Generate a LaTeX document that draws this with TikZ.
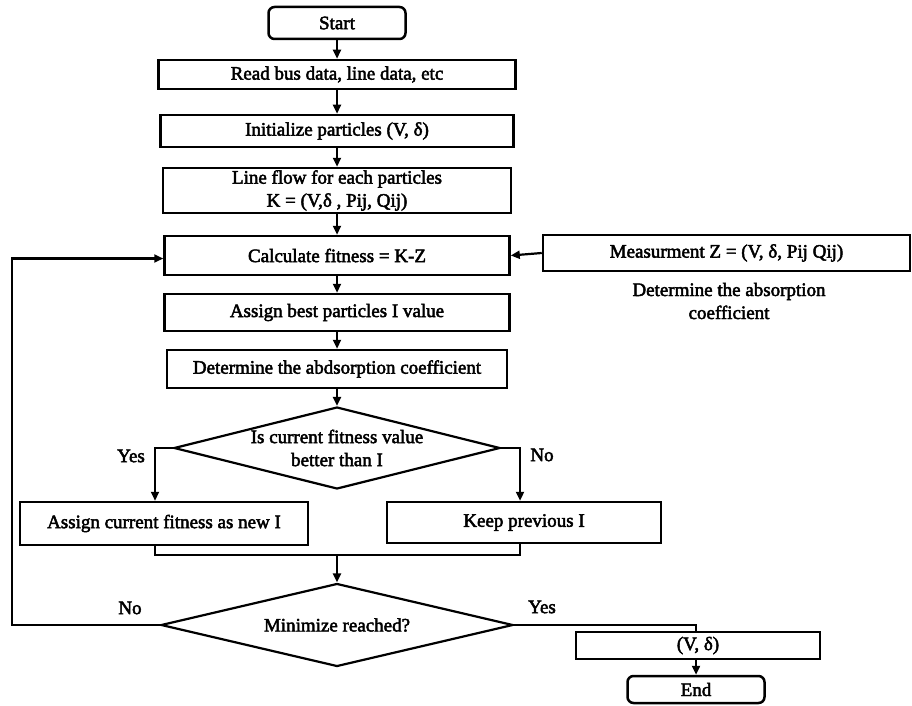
\documentclass[tikz,border=0pt]{standalone}
\usepackage{fontspec}
\usetikzlibrary{arrows.meta,shapes.geometric}
\newfontfamily\figfont{Liberation Serif}[FakeBold=2.5]
\newcommand\fzfont{\figfont\fontsize{19}{23}\selectfont}
\begin{document}
\begin{tikzpicture}[x=1pt,y=-1pt,
  box/.style={draw, line width=2.5pt, rectangle, inner sep=0pt, align=center, font=\fzfont},
  term/.style={box, rounded corners=6pt},
  dec/.style={draw, line width=2.2pt, diamond, inner sep=0pt, align=center, font=\fzfont},
  lbl/.style={inner sep=0pt, font=\fzfont},
  arr/.style={line width=2.2pt, -{Triangle[length=9pt,width=8pt]}},
  ln/.style={line width=2.2pt}]
\useasboundingbox (0,0) rectangle (912,706);

\node[term, minimum width=137pt, minimum height=32pt] (start) at (337,23) {Start};
\node[box, minimum width=357pt, minimum height=29pt] (read) at (337,74.5) {Read bus data, line data, etc};
\node[box, minimum width=353pt, minimum height=32pt] (init) at (337,131) {Initialize particles (V, δ)};
\node[box, minimum width=348pt, minimum height=45pt] (flow) at (337,190.5) {Line flow for each particles\\K = (V,δ , Pij, Qij)};
\node[box, minimum width=345pt, minimum height=39pt] (calc) at (337,255.5) {Calculate fitness = K-Z};
\node[box, minimum width=367pt, minimum height=36pt] (meas) at (726.5,253) {Measurment Z = (V, δ, Pij Qij)};
\node[lbl, align=center] (abs) at (729,301) {Determine the absorption\\coefficient};
\node[box, minimum width=345pt, minimum height=37pt] (best) at (337,312.5) {Assign best particles I value};
\node[box, minimum width=340pt, minimum height=38pt] (abd) at (337,369) {Determine the abdsorption coefficient};
\node[dec, aspect=3.98, minimum width=326pt, minimum height=82pt, inner sep=-3pt] (dec1) at (337,448) {Is current fitness value\\better than I};
\node[box, minimum width=288pt, minimum height=43pt] (cur) at (164,523.5) {Assign current fitness as new I};
\node[box, minimum width=274pt, minimum height=41pt] (keep) at (524,522.5) {Keep previous I};
\node[dec, aspect=4.24, minimum width=352pt, minimum height=83pt] (dec2) at (337,625) {Minimize reached?};
\node[box, minimum width=244pt, minimum height=27pt] (vd) at (698,645.5) {(V, δ)};
\node[term, minimum width=137pt, minimum height=27pt] (end) at (696,689.5) {End};

\node[lbl] (yes1) at (131,456) {Yes};
\node[lbl] (no1) at (542,455) {No};
\node[lbl] (no2) at (130,608) {No};
\node[lbl] (yes2) at (542,607) {Yes};

\coordinate (m) at (337,555);
\coordinate (loopc) at (12,625);

\draw[arr] (start) -- (read);
\draw[arr] (read) -- (init);
\draw[arr] (init) -- (flow);
\draw[arr] (flow) -- (calc);
\draw[arr] (calc) -- (best);
\draw[arr] (best) -- (abd);
\draw[arr] (abd) -- (dec1);
\draw[arr] (meas.west) -- (calc.east);
\draw[arr] (dec1.west) -| ([xshift=-9pt]cur.north);
\draw[arr] (dec1.east) -| ([xshift=-4pt]keep.north);
\draw[ln] ([xshift=-9pt]cur.south) |- (m) -| ([xshift=-4pt]keep.south);
\draw[arr] (m) -- (dec2.north);
\draw[arr] (dec2.west) -- (loopc) |- ([yshift=-3pt]calc.west);
\draw[ln] (dec2.east) -| (end.north |- vd.north);
\draw[arr] (end.north |- vd.south) -- (end.north);
\end{tikzpicture}
\end{document}
